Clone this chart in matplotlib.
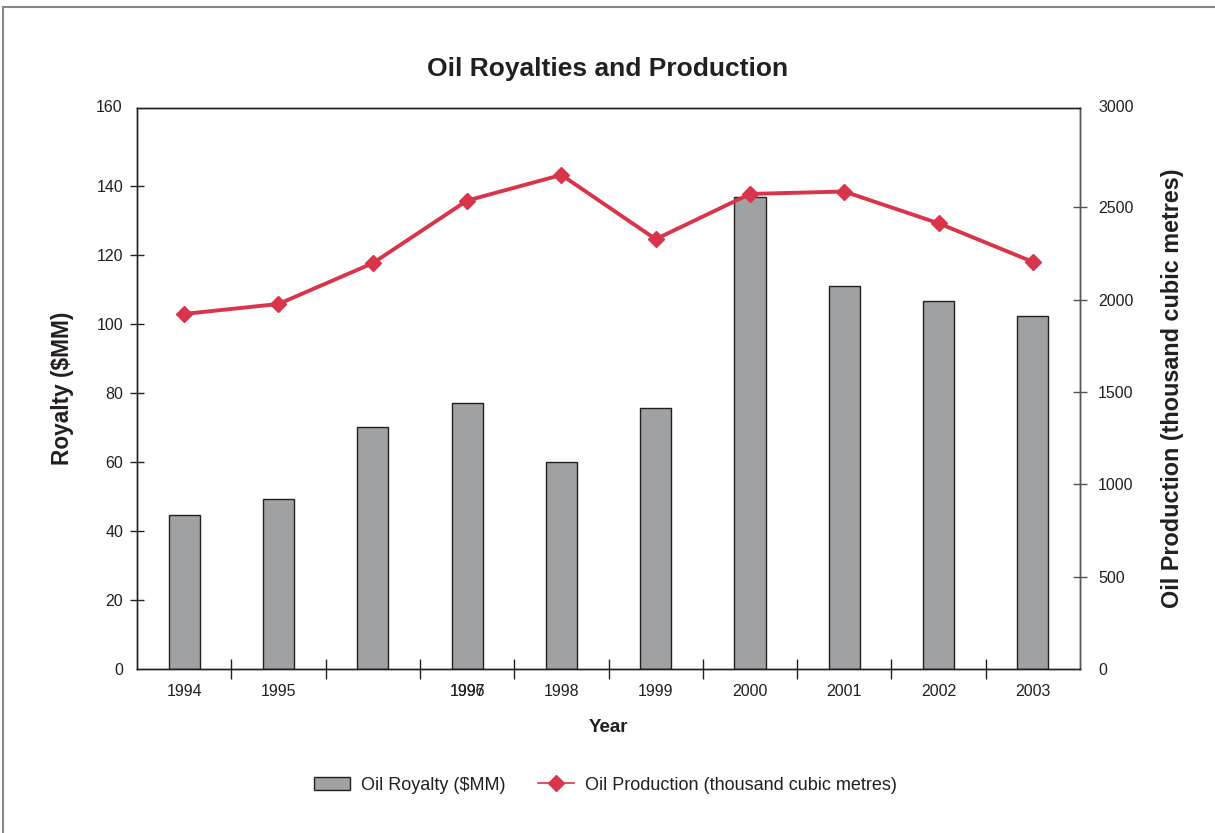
import matplotlib
matplotlib.use("Agg")
import matplotlib.pyplot as plt
from matplotlib.lines import Line2D
from matplotlib.transforms import ScaledTranslation
import numpy as np

plt.rcParams['font.family'] = ['Liberation Sans', 'DejaVu Sans']

years = ['1994', '1995', '1996', '1997', '1998', '1999', '2000', '2001', '2002', '2003']
royalty = [44.6, 49.3, 70.1, 77.1, 60.0, 75.7, 136.9, 111.1, 106.8, 102.2]
production = [1923, 1977, 2198, 2537, 2676, 2328, 2573, 2586, 2414, 2205]
# as printed in the source: the 1996 label is drawn over the 1997 position
xtick_labels = ['1994', '1995', '', '1997', '1998', '1999', '2000', '2001', '2002', '2003']
left_ticks = [0, 20, 40, 60, 80, 100, 120, 140, 160]
right_ticks = [0, 500, 1000, 1500, 2000, 2500, 3000]

TXT = '#231f20'
BAR = '#a0a1a3'
LINE = '#d9354a'
FS = 11.5

fig = plt.figure(figsize=(12.15, 8.33), dpi=100)
ax = fig.add_axes([0.1128, 0.1969, 0.7761, 0.6738])
ax2 = ax.twinx()

x = np.arange(len(years))
ax.bar(x, royalty, width=0.33, color=BAR, edgecolor=TXT, linewidth=1.0, zorder=2,
       label='Oil Royalty ($MM)')
ax2.plot(x, production, color=LINE, linewidth=2.8, marker='D', markersize=8.5,
         markeredgecolor=LINE, zorder=3, label='Oil Production (thousand cubic metres)')

ax.set_xlim(-0.5, len(years) - 0.5)
ax.set_ylim(0, 162.7)
ax2.set_ylim(0, 3040)

# the top labels sit at the frame's top edge in the source
ax.set_yticks(left_ticks)
ax.set_yticklabels([str(v) for v in left_ticks[:-1]] + [''])
ax2.set_yticks(right_ticks)
ax2.set_yticklabels([str(v) for v in right_ticks[:-1]] + [''])

ax.tick_params(axis='y', direction='inout', length=10, width=1, color=TXT,
               labelsize=FS, labelcolor=TXT, pad=5)
ax2.tick_params(axis='y', direction='inout', length=10, width=1, color='#555555',
                labelsize=FS, labelcolor=TXT, pad=8)
for t in (ax.yaxis.get_major_ticks()[0], ax.yaxis.get_major_ticks()[-1]):
    t.tick1line.set_visible(False)
for t in (ax2.yaxis.get_major_ticks()[0], ax2.yaxis.get_major_ticks()[-1]):
    t.tick2line.set_visible(False)

ax.text(0, 1, str(left_ticks[-1]),
        transform=ax.transAxes + ScaledTranslation(-14.4 / 100, 0, fig.dpi_scale_trans),
        ha='right', va='center', fontsize=FS, color=TXT)
ax2.text(1, 1, str(right_ticks[-1]),
         transform=ax2.transAxes + ScaledTranslation(18 / 100, 0, fig.dpi_scale_trans),
         ha='left', va='center', fontsize=FS, color=TXT)

# x labels drawn as text so the overlapping 1996/1997 labels line up
ax.set_xticks([])
ax.set_xticks(np.arange(0.5, len(years) - 1, 1.0), minor=True)
ax.tick_params(axis='x', which='minor', direction='inout', length=14, width=1, color=TXT)
off = ax.get_xaxis_transform() + ScaledTranslation(0, -11 / 72, fig.dpi_scale_trans)
for xi, lab in zip(x, xtick_labels):
    if lab:
        ax.text(xi, 0, lab, transform=off, ha='center', va='top', fontsize=FS, color=TXT)
ax.text(x[3], 0, years[2], transform=off, ha='center', va='top', fontsize=FS, color=TXT)

for a in (ax, ax2):
    for s in a.spines.values():
        s.set_color(TXT)
        s.set_linewidth(1.0)
ax2.spines['right'].set_color('#555555')

ax.set_ylabel('Royalty ($MM)', fontsize=16.3, fontweight='bold', color=TXT, labelpad=16)
ax2.set_ylabel('Oil Production (thousand cubic metres)', fontsize=16.8, fontweight='bold',
               color=TXT, labelpad=20, rotation=90)
ax.set_xlabel('Year', fontsize=13.5, fontweight='bold', color=TXT, labelpad=25.5)
fig.suptitle('Oil Royalties and Production', fontsize=19, fontweight='bold', color=TXT,
             x=0.5, y=0.931)

h1, l1 = ax.get_legend_handles_labels()
h2, l2 = ax2.get_legend_handles_labels()
leg = fig.legend(h1 + h2, l1 + l2, loc='center', bbox_to_anchor=(605 / 1215, 1 - 785 / 833),
                 ncol=2, frameon=False, fontsize=13, handlelength=2.0, handletextpad=0.6,
                 columnspacing=1.8, labelcolor=TXT)
leg.legend_handles[1].set_linewidth(1.2)

# outer frame
fig.add_artist(Line2D([3 / 1215, 3 / 1215], [0, 1 - 7 / 833], transform=fig.transFigure,
                      color='#888888', linewidth=1.5))
fig.add_artist(Line2D([3 / 1215, 1], [1 - 7 / 833, 1 - 7 / 833], transform=fig.transFigure,
                      color='#888888', linewidth=1.5))

fig.savefig('out.png', dpi=100)
